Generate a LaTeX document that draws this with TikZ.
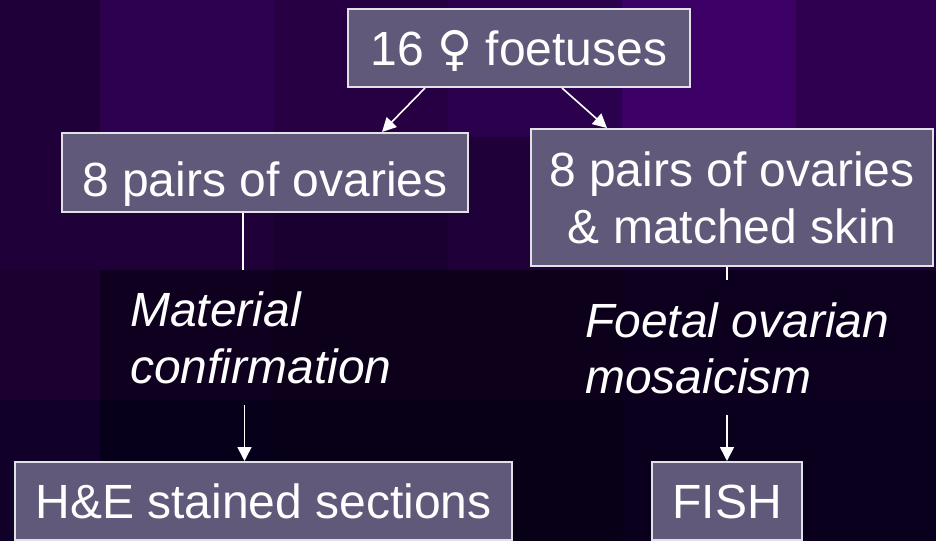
\documentclass[tikz,border=0pt]{standalone}
\usepackage{fontspec}
\setmainfont{Liberation Sans}
\newfontfamily\signfont{DejaVu Sans}
\usetikzlibrary{arrows.meta}

\definecolor{boxfill}{RGB}{96,89,122}
\definecolor{boxline}{RGB}{225,225,230}

\begin{document}
\begin{tikzpicture}[x=1pt,y=1pt,
		box/.style={draw=boxline,line width=2pt,fill=boxfill,text=white,
			font=\fontsize{48}{57}\selectfont,inner sep=0pt,
			text height=35pt,text depth=0pt},
		note/.style={text=white,font=\fontsize{48}{56}\selectfont\itshape,
			align=left,inner xsep=0pt,inner ysep=22pt,
			text height=91pt,text depth=0pt,anchor=base west},
		link/.style={white,line width=1.6pt},
		>={Triangle[length=14pt,width=14pt]}]
			\useasboundingbox (0,0) rectangle (936,541);
			
			% background tiles
			
			\foreach \c [count=\i from 0] in {200038,2D0050,260042,2B004C,3D0066,2E004F} {
				\definecolor{tile}{HTML}{\c}
				\fill[tile] (\i*174-74,541) rectangle ++(174,-137);
			}
			\foreach \c [count=\i from 0] in {1F0038,200038,1A0030,1F0038,200039,20003A} {
				\definecolor{tile}{HTML}{\c}
				\fill[tile] (\i*174-74,404) rectangle ++(174,-133);
			}
			\foreach \c [count=\i from 0] in {1C0030,0F0020,0C001A,0C001A,0D001E,0D001E} {
				\definecolor{tile}{HTML}{\c}
				\fill[tile] (\i*174-74,271) rectangle ++(174,-130);
			}
			\foreach \c [count=\i from 0] in {10002A,07001A,080016,080016,0A001E,0A001E} {
				\definecolor{tile}{HTML}{\c}
				\fill[tile] (\i*174-74,141) rectangle ++(174,-141);
			}
			
			% boxes
			
			\node[box,minimum width=342pt,minimum height=78pt] (T) at (519,493)
				{16 {\signfont\fontsize{48}{57}\selectfont ♀} foetuses};
			\node[box,minimum width=406pt,minimum height=79pt,text height=48pt] (L) at (265,368.5)
				{8 pairs of ovaries};
			\node[box,minimum width=402pt,minimum height=137pt,align=center,text height=93pt] (R) at (732,343.5)
				{8 pairs of ovaries\\ \& matched skin};
			\node[box,minimum width=497pt,minimum height=78pt] (H) at (263.5,40)
				{H\&E stained sections};
			\node[box,minimum width=150pt,minimum height=78pt] (F) at (727,40)
				{FISH};
			
			% labels
			
			\node[note] (mat) at (130,158) {Material\\confirmation};
			\node[note] (fov) at (585,148) {Foetal ovarian\\mosaicism};
			
			% connectors
			
			\draw[link,->] ([xshift=-94pt]T.south) -- ([xshift=117pt]L.north);
			\draw[link,->] ([xshift=43pt]T.south) -- ([xshift=-125pt]R.north);
			\draw[link] ([xshift=-22pt]L.south) -- ([xshift=-22pt]L.south |- mat.north);
			\draw[link,->] ([xshift=-19pt]H.north |- mat.south) -- ([xshift=-19pt]H.north);
			\draw[link] (R.south -| F.north) -- (F.north |- fov.north);
			\draw[link,->] (F.north |- fov.south) -- (F.north);
		\end{tikzpicture}
\end{document}
